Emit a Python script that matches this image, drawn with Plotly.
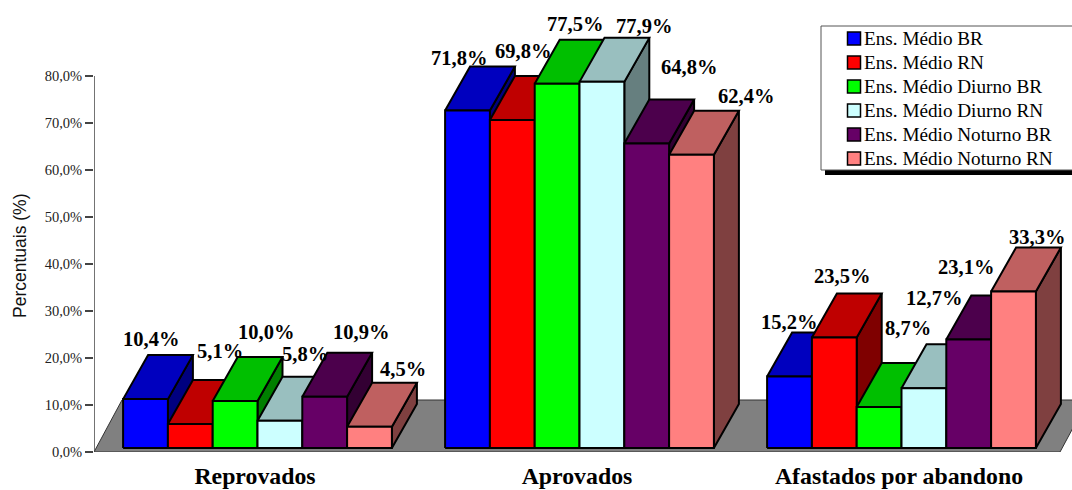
import plotly.graph_objects as go

categories = ["Reprovados", "Aprovados", "Afastados por abandono"]
series_names = [
    "Ens. Médio BR",
    "Ens. Médio RN",
    "Ens. Médio Diurno BR",
    "Ens. Médio Diurno RN",
    "Ens. Médio Noturno BR",
    "Ens. Médio Noturno RN",
]
medio_br = [10.4, 71.8, 15.2]
medio_rn = [5.1, 69.8, 23.5]
diurno_br = [10.0, 77.5, 8.7]
diurno_rn = [5.8, 77.9, 12.7]
noturno_br = [10.9, 64.8, 23.1]
noturno_rn = [4.5, 62.4, 33.3]
series_values = [medio_br, medio_rn, diurno_br, diurno_rn, noturno_br, noturno_rn]
y_ticks = [0, 10, 20, 30, 40, 50, 60, 70, 80]

# front, top and side face colours of each series
front_colors = ["#0000ff", "#ff0000", "#00ff00", "#ccffff", "#660066", "#ff8080"]
top_colors = ["#0000bf", "#bf0000", "#00bf00", "#99bfbf", "#4c004c", "#bf6060"]
side_colors = ["#00007f", "#7f0000", "#007f00", "#667f7f", "#330033", "#7f4040"]

# pixel nudges of the value labels, per category then per series
label_dx = [
    [-19.5, 4.7, 6, 0, 11, 8.5],
    [-33.5, -14.3, -7, 17, 17.3, 29.5],
    [-25.4, -17.2, 4, -14.8, -27.6, -1.4],
]
label_dy = [
    [-16, -29, -25, -23, -21, -14],
    [-8.5, -25, -16, -12, -32, -15],
    [-10.6, -17.5, -35, -46, -28, -10.5],
]

# plot frame in page pixels; the value axis runs past 80 so the tallest bars fit
PLOT_LEFT, PLOT_RIGHT, PLOT_TOP, PLOT_BOTTOM = 94, 1072, 0, 452
PX_PER_CAT = 322.0
PX_PER_PCT = 4.7

# oblique projection used for the 3D look, in axis units
BAR_W = 44.8 / PX_PER_CAT
GROUP_NUDGE = 2.5 / PX_PER_CAT
DEPTH_X = 25 / PX_PER_CAT
DEPTH_Y = 44 / PX_PER_PCT
BASE_Y = 4 / PX_PER_PCT
FLOOR_X = 28 / PX_PER_CAT
FLOOR_Y = 52 / PX_PER_PCT
X_MIN = -0.5
X_MAX = X_MIN + (PLOT_RIGHT - PLOT_LEFT) / PX_PER_CAT
Y_MAX = (PLOT_BOTTOM - PLOT_TOP) / PX_PER_PCT


def face(xs, ys, fill, line="#000000", width=2):
    return go.Scatter(
        x=xs + xs[:1],
        y=ys + ys[:1],
        mode="lines",
        fill="toself",
        fillcolor=fill,
        line=dict(color=line, width=width),
        hoverinfo="skip",
        showlegend=False,
    )


fig = go.Figure()

# grey floor of the chart
fig.add_trace(
    face(
        [X_MIN, 2.5, 2.5 + FLOOR_X, X_MIN + FLOOR_X],
        [0, 0, FLOOR_Y, FLOOR_Y],
        "#808080",
        line="#333333",
        width=1,
    )
)
# value axis line, stopping at the last tick
fig.add_trace(
    go.Scatter(
        x=[X_MIN, X_MIN],
        y=[0, 80],
        mode="lines",
        line=dict(color="#444444", width=1.5),
        hoverinfo="skip",
        showlegend=False,
        cliponaxis=False,
    )
)

annotations = []
for c, _ in enumerate(categories):
    for s, values in enumerate(series_values):
        v = values[c]
        x0 = c + GROUP_NUDGE + (s - 3) * BAR_W
        x1 = x0 + BAR_W
        top = BASE_Y + v
        fig.add_trace(
            face(
                [x1, x1 + DEPTH_X, x1 + DEPTH_X, x1],
                [BASE_Y, BASE_Y + DEPTH_Y, top + DEPTH_Y, top],
                side_colors[s],
            )
        )
        fig.add_trace(
            face(
                [x0, x1, x1 + DEPTH_X, x0 + DEPTH_X],
                [top, top, top + DEPTH_Y, top + DEPTH_Y],
                top_colors[s],
            )
        )
        fig.add_trace(
            face([x0, x1, x1, x0], [BASE_Y, BASE_Y, top, top], front_colors[s])
        )
        annotations.append(
            dict(
                x=(x0 + x1) / 2 + DEPTH_X,
                y=top + DEPTH_Y,
                xref="x",
                yref="y",
                text=f"<b>{v:.1f}%</b>".replace(".", ","),
                showarrow=False,
                xanchor="center",
                yanchor="middle",
                xshift=label_dx[c][s],
                yshift=-label_dy[c][s],
                font=dict(family="Liberation Serif", size=20.5, color="#000000"),
            )
        )


def px_x(px):
    return (px - PLOT_LEFT) / (PLOT_RIGHT - PLOT_LEFT)


def px_y(py):
    return (PLOT_BOTTOM - py) / (PLOT_BOTTOM - PLOT_TOP)


def rect(x0, y0, x1, y1, fill, line, width):
    return dict(
        type="rect",
        xref="paper",
        yref="paper",
        x0=px_x(x0),
        x1=px_x(x1),
        y0=px_y(y0),
        y1=px_y(y1),
        fillcolor=fill,
        line=dict(color=line, width=width),
        layer="above",
    )


# hand-built legend box with its drop shadow
shapes = [
    rect(825, 30, 1080, 175, "#000000", "#000000", 0),
    rect(821, 26, 1080, 170, "#ffffff", "#555555", 1),
]
for s, name in enumerate(series_names):
    row_y = 38.5 + 24 * s
    shapes.append(rect(847.5, row_y - 6.5, 860.5, row_y + 6.5, front_colors[s], "#000000", 1.5))
    annotations.append(
        dict(
            x=px_x(862),
            y=px_y(row_y),
            xref="paper",
            yref="paper",
            text=name,
            showarrow=False,
            xanchor="left",
            yanchor="middle",
            font=dict(family="Liberation Serif", size=19.2, color="#000000"),
        )
    )

# rotated title of the value axis
annotations.append(
    dict(
        x=px_x(20),
        y=px_y(256),
        xref="paper",
        yref="paper",
        text="Percentuais (%)",
        textangle=-90,
        showarrow=False,
        xanchor="center",
        yanchor="middle",
        font=dict(family="Liberation Sans", size=17.5, color="#111111"),
    )
)

fig.update_layout(
    width=1072,
    height=490,
    margin=dict(l=PLOT_LEFT, r=1072 - PLOT_RIGHT, t=PLOT_TOP, b=490 - PLOT_BOTTOM, pad=0),
    paper_bgcolor="#ffffff",
    plot_bgcolor="#ffffff",
    showlegend=False,
    shapes=shapes,
    annotations=annotations,
    xaxis=dict(
        range=[X_MIN, X_MAX],
        tickvals=list(range(len(categories))),
        ticktext=categories,
        ticks="",
        showline=False,
        showgrid=False,
        zeroline=False,
        automargin=False,
        ticklabelstandoff=7,
        tickfont=dict(family="Liberation Serif", size=23.8, color="#000000", weight=700),
    ),
    yaxis=dict(
        range=[0, Y_MAX],
        tickvals=y_ticks,
        ticktext=[f"{t},0%" for t in y_ticks],
        ticks="outside",
        ticklen=8,
        tickwidth=1.5,
        tickcolor="#444444",
        showline=False,
        showgrid=False,
        zeroline=False,
        automargin=False,
        tickfont=dict(family="Liberation Serif", size=14.5, color="#222222"),
    ),
)

fig.write_html("out.html")
